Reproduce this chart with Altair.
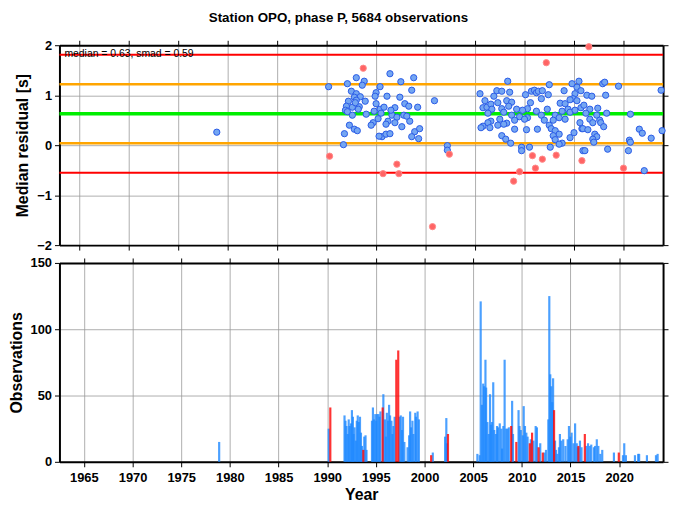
import altair as alt
import pandas as pd

TITLE = "Station OPO, phase P, 5684 observations"
STATS_TEXT = "median = 0.63, smad = 0.59"

# horizontal reference lines (median, +-1 smad, +-2 smad)
line_vals = [1.81, 1.22, 0.63, 0.04, -0.55]
line_colors = ["#FF0000", "#FFA500", "#00EE00", "#FFA500", "#FF0000"]
line_widths = [2, 2.5, 3.5, 2.5, 2]

blue_years = [1978.9, 1990.2,
    1993.0, 1993.8, 1993.6, 1992.1, 1992.5, 1993.0, 1993.4, 1992.8, 1993.9, 1992.2, 1993.0,
    1992.0, 1992.6, 1993.3, 1991.9, 1992.1, 1994.0, 1992.3, 1992.8, 1993.1, 1991.8, 1991.7,
    1996.4, 1995.4, 1997.5, 1998.8, 1998.6, 1995.0, 1994.9, 1996.1, 1997.4, 1995.0, 1997.9,
    1998.3, 1996.9, 1995.4, 1994.8, 1995.5, 1997.8, 1996.6, 1997.1, 1995.2, 1996.2, 1994.7,
    1998.4, 1996.9, 1996.0, 1994.5, 1997.6, 1998.9, 1998.6, 1995.6, 1996.0, 1996.4, 1995.3,
    1992.6, 1993.2, 1992.9, 1995.8, 1996.5, 1998.1,
    1999.2, 1999.4, 1999.3, 2000.9, 2002.2, 2002.2,
    2005.5, 2006.0, 2006.9, 2005.8, 2006.2, 2006.6, 2006.7, 2006.3, 2006.6, 2006.3, 2005.8,
    2005.6, 2006.5,
    2008.3, 2012.5, 2007.2, 2007.7, 2008.5, 2010.1, 2010.7, 2011.0, 2011.2, 2011.4, 2011.8,
    2011.7, 2012.4, 2014.0, 2014.8, 2015.5, 2015.3, 2015.7, 2015.1, 2014.9, 2014.6, 2015.3,
    2008.2, 2008.7, 2010.6, 2007.3, 2008.4, 2013.6, 2014.1, 2007.7, 2009.2, 2010.3, 2009.8,
    2012.3, 2011.2, 2013.8, 2014.4, 2014.6, 2015.1, 2015.7, 2007.9, 2008.7, 2009.5, 2010.3,
    2011.7, 2013.1, 2013.5, 2007.5, 2008.2, 2009.0, 2010.0, 2012.0, 2012.9, 2014.1, 2007.3,
    2007.9, 2012.5, 2009.0, 2010.2, 2011.3, 2012.7, 2013.1, 2015.0, 2015.8, 2007.7, 2013.5,
    2012.9, 2014.6, 2008.1, 2013.1, 2008.6, 2013.8, 2013.5, 2009.7, 2010.5, 2012.6, 2009.7,
    2015.9,
    2017.9, 2018.1, 2019.5, 2023.8, 2016.3, 2016.8, 2018.2, 2016.0, 2016.6, 2017.4, 2016.2,
    2017.3, 2018.3, 2020.7, 2016.6, 2016.9, 2017.6, 2017.7, 2018.0, 2015.6, 2015.9, 2016.4,
    2021.6, 2021.9, 2022.8, 2023.9, 2017.1, 2017.3, 2016.9, 2017.0, 2020.6, 2020.7, 2016.1,
    2018.4, 2020.5, 2022.1]
blue_vals = [0.26, 1.17,
    1.35, 1.28, 1.20, 1.23, 1.08, 1.03, 0.97, 0.96, 0.88, 0.88, 0.90,
    0.78, 0.76, 0.77, 0.70, 0.67, 0.62, 0.40, 0.32, 0.29, 0.23, 0.01,
    1.43, 1.17, 1.27, 1.35, 1.10, 1.05, 0.98, 0.98, 0.96, 0.83, 0.83,
    0.78, 0.75, 0.72, 0.68, 0.64, 0.60, 0.60, 0.56, 0.53, 0.48, 0.45,
    0.48, 0.45, 0.42, 0.40, 0.37, 0.27, 0.17, 0.17, 0.22, 0.23, 0.18,
    0.60, 0.72, 0.85, 0.76, 0.70, 0.58,
    0.76, 0.33, 0.13, 0.89, -0.01, -0.10,
    1.03, 0.89, 0.98, 0.75, 0.76, 0.82, 0.72, 0.64, 0.48, 0.45, 0.38,
    0.35, 0.35,
    1.28, 1.21, 1.09, 1.08, 1.06, 1.01, 1.08, 1.10, 1.05, 1.08, 1.09,
    0.93, 1.01, 1.09, 1.23, 1.28, 1.16, 1.09, 1.03, 0.93, 0.91, 0.89,
    0.89, 0.86, 0.85, 0.85, 0.78, 0.84, 0.83, 0.73, 0.72, 0.73, 0.70,
    0.72, 0.68, 0.68, 0.72, 0.66, 0.70, 0.75, 0.66, 0.60, 0.57, 0.55,
    0.60, 0.60, 0.55, 0.52, 0.44, 0.50, 0.52, 0.50, 0.50, 0.52, 0.40,
    0.42, 0.40, 0.32, 0.31, 0.32, 0.33, 0.29, 0.25, 0.33, 0.19, 0.22,
    0.19, 0.15, 0.12, 0.11, 0.04, 0.04, 0.02, -0.04, -0.04, -0.04, -0.11,
    -0.11,
    1.23, 1.26, 1.18, 1.10, 1.00, 0.98, 1.00, 0.80, 0.72, 0.74, 0.64,
    0.60, 0.64, 0.62, 0.52, 0.45, 0.50, 0.45, 0.37, 0.45, 0.33, 0.31,
    0.32, 0.24, 0.14, 0.29, 0.22, 0.17, 0.12, 0.06, 0.10, 0.06, -0.11,
    -0.08, -0.11, -0.51]

red_years = [1990.3, 1993.7, 1997.1, 1995.7, 1997.3, 2002.4, 2000.7, 2012.2, 2010.8, 2011.8,
             2013.2, 2015.8, 2011.1, 2009.5, 2008.9, 2016.5, 2020.0]
red_vals = [-0.22, 1.54, -0.38, -0.57, -0.57, -0.18, -1.63, 1.65, -0.21, -0.28,
            -0.20, -0.31, -0.46, -0.53, -0.72, 1.97, -0.46]

bar_blue_years = [1978.9, 1990.15,
    1991.78, 1991.88, 1991.98, 1992.11, 1992.21, 1992.31, 1992.44, 1992.54, 1992.64, 1992.71,
    1992.81, 1992.94, 1993.04, 1993.14, 1993.24, 1993.37, 1993.47, 1993.57, 1993.81, 1993.94,
    1994.04, 1994.6, 1994.7, 1994.8, 1994.94, 1995.04, 1995.13, 1995.27, 1995.37, 1995.47,
    1995.77, 1995.93, 1996.03, 1996.13, 1996.26, 1996.36, 1996.46, 1996.6, 1996.7, 1996.8,
    1996.93, 1997.43, 1997.56, 1997.69, 1997.79, 1997.93, 1998.26, 1998.42, 1998.52, 1998.62,
    1998.76, 1998.86, 1999.05, 1999.12, 1999.29, 1999.42,
    2000.85, 2002.11, 2002.24, 2002.31,
    2005.43, 2005.67, 2005.77, 2005.9, 2006.03, 2006.13, 2006.26, 2006.33, 2006.46, 2006.6,
    2006.73, 2006.83, 2006.93, 2007.06, 2007.16, 2007.33, 2007.45, 2007.56, 2007.73, 2007.9,
    2007.97, 2008.1, 2008.23, 2008.4, 2008.53, 2008.66, 2009.0, 2009.09, 2009.66, 2009.76,
    2009.89, 2010.09, 2010.19, 2010.32, 2010.46, 2010.59, 2010.92, 2011.19, 2011.42, 2011.55,
    2011.89, 2012.32, 2012.48, 2012.72, 2012.82, 2012.92, 2013.02, 2013.12, 2013.21, 2013.41,
    2013.51, 2013.65, 2013.81, 2013.91, 2014.05, 2014.25, 2014.48, 2014.71, 2014.84, 2014.98,
    2015.11, 2015.31, 2015.47, 2015.64, 2015.74, 2015.97, 2016.13, 2016.63, 2016.8, 2016.97,
    2017.13, 2017.4, 2017.53, 2017.7, 2017.86, 2018.06, 2018.26, 2019.46, 2020.39, 2020.52,
    2020.69, 2021.62, 2021.95, 2022.05, 2022.85, 2023.78, 2023.95]
bar_blue_counts = [15, 25,
    35, 31, 27, 21, 32, 27, 29, 39, 34, 21,
    26, 16, 31, 35, 30, 34, 22, 12, 19, 20,
    9, 31, 41, 32, 36, 31, 36, 36, 34, 38,
    51, 32, 19, 37, 31, 43, 35, 31, 21, 27,
    34, 34, 35, 24, 34, 15, 11, 20, 38, 26,
    31, 21, 37, 34, 38, 32,
    7, 19, 33, 14,
    6, 5, 121, 43, 59, 57, 77, 56, 30, 21,
    51, 28, 30, 60, 24, 21, 27, 26, 29, 25,
    10, 27, 77, 25, 25, 26, 46, 21, 39, 27,
    24, 20, 42, 27, 22, 19, 17, 16, 27, 26,
    14, 7, 9, 32, 125, 66, 57, 45, 63, 16,
    9, 6, 11, 21, 16, 17, 12, 17, 27, 19,
    22, 14, 29, 14, 11, 16, 11, 12, 14, 12,
    13, 11, 12, 17, 12, 6, 9, 7, 5, 14,
    5, 5, 6, 6, 5, 5, 6]

bar_red_years = [1990.32, 1993.71, 1995.7, 1997.1, 1997.3, 2000.68, 2002.41, 2008.9, 2009.43,
                 2010.82, 2011.05, 2011.72, 2012.15, 2013.31, 2015.81, 2016.47, 2019.96]
bar_red_counts = [41, 9, 41, 77, 84, 5, 21, 27, 15, 14, 22, 11, 7, 39, 12, 21, 7]

year_ticks = [1965, 1970, 1975, 1980, 1985, 1990, 1995, 2000, 2005, 2010, 2015, 2020]

pts = pd.DataFrame({
    "year": blue_years + red_years,
    "val": blue_vals + red_vals,
    "kind": ["ok"] * len(blue_years) + ["out"] * len(red_years),
})
bars = pd.DataFrame({
    "year": bar_blue_years + bar_red_years,
    "count": bar_blue_counts + bar_red_counts,
    "kind": ["ok"] * len(bar_blue_years) + ["out"] * len(bar_red_years),
})
lines = pd.DataFrame({"y": line_vals, "c": line_colors, "w": line_widths})
note = pd.DataFrame({"year": [1963.5], "val": [1.83], "t": [STATS_TEXT]})

FONT = "Liberation Sans"
W, H = 610, 201
xscale = alt.Scale(domain=[1963, 2024], nice=False, zero=False)

def xaxis(orient, labels, title=None):
    kw = dict(orient=orient, values=year_ticks, labels=labels, grid=(orient == "bottom"),
              tickSize=5, format="d", title=title, titlePadding=2, labelPadding=5)
    return alt.Axis(**kw)

# ---------- top panel ----------
ys_top = alt.Scale(domain=[-2, 2], nice=False)
rules = alt.Chart(lines).mark_rule().encode(
    y=alt.Y("y:Q", scale=ys_top,
            axis=alt.Axis(orient="left", values=[-2, -1, 0, 1, 2], title="Median residual [s]",
                          tickSize=5, grid=True)),
    color=alt.Color("c:N", scale=None),
    strokeWidth=alt.StrokeWidth("w:Q", scale=None),
)
points = alt.Chart(pts).mark_circle(size=40, strokeWidth=1, opacity=1).encode(
    x=alt.X("year:Q", scale=xscale, axis=xaxis("bottom", False)),
    y=alt.Y("val:Q", scale=ys_top, axis=None),
    fill=alt.Fill("kind:N", scale=alt.Scale(domain=["ok", "out"], range=["#74A6F2", "#FF6464"]), legend=None),
    stroke=alt.Stroke("kind:N", scale=alt.Scale(domain=["ok", "out"], range=["#2B5BE6", "#FF8A8A"]), legend=None),
)
txt = alt.Chart(note).mark_text(align="left", baseline="middle", fontSize=10.5, font=FONT, color="black").encode(
    x=alt.X("year:Q", scale=xscale, axis=None), y=alt.Y("val:Q", scale=ys_top, axis=None), text="t:N")
axes_top = alt.Chart(note).mark_point(opacity=0).encode(
    x=alt.X("year:Q", scale=xscale, axis=xaxis("top", False)),
    y=alt.Y("val:Q", scale=ys_top, axis=alt.Axis(orient="right", values=[-2, -1, 0, 1, 2], labels=False,
                                                  grid=False, tickSize=5, title=None)),
)
top = alt.layer(rules, points, txt, axes_top).resolve_axis(x="independent", y="independent").properties(width=W, height=H + 1)

# ---------- bottom panel ----------
ys_bot = alt.Scale(domain=[0, 150], nice=False)
barch = alt.Chart(bars).mark_bar(size=2.2, opacity=0.8).encode(
    x=alt.X("year:Q", scale=xscale, axis=xaxis("bottom", True, "Year")),
    y=alt.Y("count:Q", scale=ys_bot,
            axis=alt.Axis(orient="left", values=[0, 50, 100, 150], title="Observations", tickSize=5, grid=True)),
    color=alt.Color("kind:N", scale=alt.Scale(domain=["ok", "out"], range=["#1E88FF", "#FF0000"]), legend=None),
)
axes_bot = alt.Chart(note).mark_point(opacity=0).encode(
    x=alt.X("year:Q", scale=xscale, axis=xaxis("top", False)),
    y=alt.Y("val:Q", scale=ys_bot, axis=alt.Axis(orient="right", values=[0, 50, 100, 150], labels=False,
                                                  grid=False, tickSize=5, title=None)),
)
bottom = alt.layer(barch, axes_bot).resolve_axis(x="independent", y="independent").properties(width=W, height=H)

chart = alt.vconcat(top, bottom, spacing=5).properties(
    title=alt.TitleParams(TITLE, fontSize=13.5, fontWeight="bold", font=FONT, anchor="middle", offset=15),
    padding={"left": 0, "top": 0, "right": 0, "bottom": 0},
).configure_axis(
    labelFont=FONT, labelFontSize=13, labelFontWeight="bold", labelColor="black",
    titleFont=FONT, titleFontSize=16, titleFontWeight="bold", titleColor="black",
    domainColor="black", domainWidth=2, tickColor="black", tickWidth=1,
    gridColor="#9A9A9A", gridOpacity=1, gridWidth=0.8, labelPadding=3, titlePadding=6,
).configure_view(stroke=None)

chart.save("out.html", embed_options={"renderer": "svg", "actions": False})
